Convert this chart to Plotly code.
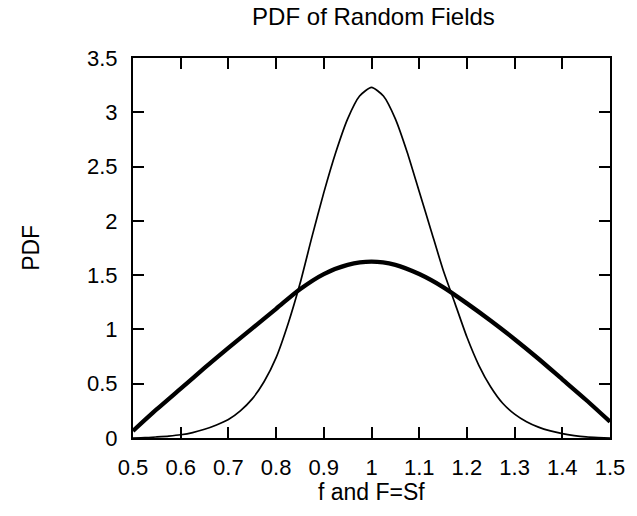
import plotly.graph_objects as go

# Thin curve: PDF of f
x_thin = [0.50, 0.525, 0.55, 0.575, 0.60, 0.625, 0.65, 0.675, 0.70, 0.725, 0.75, 0.775,
          0.80, 0.825, 0.85, 0.875, 0.90, 0.925, 0.95, 0.975, 1.00, 1.025, 1.05, 1.075,
          1.10, 1.125, 1.15, 1.175, 1.20, 1.225, 1.25, 1.275, 1.30, 1.325, 1.35, 1.375,
          1.40, 1.425, 1.45, 1.475, 1.50]
y_thin = [0.00, 0.003, 0.01, 0.018, 0.03, 0.05, 0.08, 0.12, 0.17, 0.25, 0.36, 0.52,
          0.74, 1.05, 1.42, 1.85, 2.26, 2.63, 2.94, 3.15, 3.23, 3.15, 2.94, 2.63,
          2.27, 1.91, 1.55, 1.24, 0.93, 0.67, 0.47, 0.32, 0.22, 0.15, 0.10, 0.065,
          0.04, 0.022, 0.01, 0.004, 0.00]

# Thick curve: PDF of F = S f
x_thick = [0.50, 0.55, 0.60, 0.65, 0.70, 0.75, 0.80, 0.85, 0.90, 0.95, 1.00,
           1.05, 1.10, 1.15, 1.20, 1.25, 1.30, 1.35, 1.40, 1.45, 1.50]
y_thick = [0.065, 0.265, 0.455, 0.645, 0.83, 1.01, 1.19, 1.37, 1.51, 1.595, 1.625,
           1.595, 1.51, 1.39, 1.24, 1.08, 0.91, 0.73, 0.54, 0.35, 0.15]

title_text = "PDF of Random Fields"
x_title = "f and F=Sf"
y_title = "PDF"

FONT = "Liberation Sans, Arial, Helvetica, sans-serif"

fig = go.Figure()
fig.add_trace(go.Scatter(x=x_thin, y=y_thin, mode="lines",
                         line=dict(color="black", width=1.7, shape="spline", smoothing=0.6),
                         showlegend=False, hoverinfo="skip"))
fig.add_trace(go.Scatter(x=x_thick, y=y_thick, mode="lines",
                         line=dict(color="black", width=4.3, shape="spline", smoothing=0.8),
                         showlegend=False, hoverinfo="skip"))

axis_common = dict(
    showgrid=False, zeroline=False, showline=True, linecolor="black", linewidth=2,
    mirror="allticks", ticks="inside", ticklen=11, tickwidth=2, tickcolor="black",
    tickfont=dict(family=FONT, size=22, color="black"),
)

L, R, T, B = 133, 23, 58, 78
W, H = 637, 516
pw, ph = W - L - R, H - T - B

fig.update_layout(
    width=W, height=H,
    margin=dict(l=L, r=R, t=T, b=B),
    paper_bgcolor="white", plot_bgcolor="white",
    font=dict(family=FONT, color="black"),
    title=dict(text=title_text, x=(L + pw / 2) / W, xanchor="center",
               y=1 - 17 / H, yanchor="middle",
               font=dict(family=FONT, size=24, color="black")),
    xaxis=dict(range=[0.5, 1.5], dtick=0.1, tick0=0.5, ticklabelstandoff=9,
               **axis_common),
    yaxis=dict(range=[0, 3.5], dtick=0.5, tick0=0, ticklabelstandoff=9,
               **axis_common),
    annotations=[
        dict(text=x_title, xref="paper", yref="paper", x=0.5, y=-(492 - (T + ph)) / ph,
             xanchor="center", yanchor="middle", showarrow=False,
             font=dict(family=FONT, size=23, color="black")),
        dict(text=y_title, xref="paper", yref="paper", x=(30 - L) / pw, y=0.5,
             xanchor="center", yanchor="middle", showarrow=False, textangle=-90,
             font=dict(family=FONT, size=23, color="black")),
    ],
)

fig.write_html("out.html")
